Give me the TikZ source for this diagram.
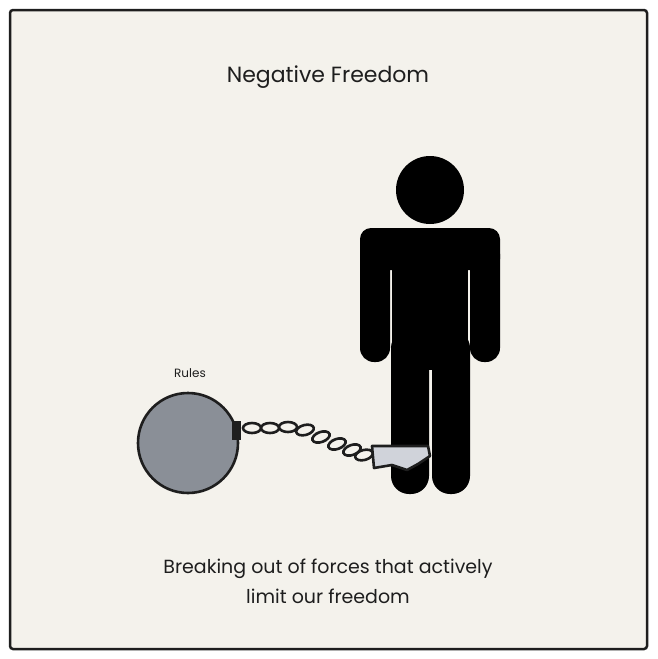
\documentclass[tikz,border=0pt]{standalone}
\usepackage{fontspec}
\setmainfont{Poppins}
\definecolor{bg}{HTML}{F4F2EC}
\definecolor{ink}{HTML}{1E1E1E}
\definecolor{ball}{HTML}{8A8F97}
\definecolor{cuff}{HTML}{D0D3DA}
\begin{document}
\begin{tikzpicture}[x=1pt,y=-1pt,
  txt/.style={text=ink,align=center},
  blk/.style={fill=black,draw=none},
  link/.style={draw=ink,line width=2.6pt}]
\useasboundingbox (0,0) rectangle (657,659);
\node[draw=ink,line width=2.5pt,fill=bg,rounded corners=3pt,minimum width=637pt,minimum height=639pt,inner sep=0pt] (frame) at (328.5,329.5) {};
\node[txt,font=\fontsize{22}{26}\selectfont] (title) at (328,77) {Negative Freedom};
% person
\fill[blk] (430,190) circle (34);
\fill[blk,rounded corners=11pt] (360,228) rectangle (500,270);
\fill[blk,rounded corners=14pt] (360,240) rectangle (390,362);
\fill[blk,rounded corners=14pt] (470,240) rectangle (500,362);
\fill[blk] (392,240) rectangle (468,370);
\fill[blk,rounded corners=18pt] (391,330) rectangle (429,494);
\fill[blk,rounded corners=18pt] (432,330) rectangle (470,494);
% ball
\node[draw=ink,line width=2.6pt,fill=ball,circle,minimum size=100pt,inner sep=0pt] (ball) at (188,443) {};
\fill[ink] (232,421) rectangle (241,440);
\node[txt,font=\fontsize{12}{14}\selectfont] (rules) at (190,373) {Rules};
% chain
\foreach \x/\y/\a in {252/428/0,270/428/0,288/427/0,305/430/15,321/437/20,337/444/20,352/450/20,364/455/15}
  \draw[link,rotate around={\a:(\x,\y)}] (\x,\y) ellipse (9pt and 5pt);
% cuff
\draw[draw=ink,line width=2.6pt,fill=cuff,line join=round] (372,446) -- (428,446) -- (430,456) -- (418,464) -- (407,470) -- (392,465) -- (374,468) -- cycle;
\node[txt,font=\fontsize{19}{30}\selectfont] (cap) at (328,581) {Breaking out of forces that actively\\limit our freedom};
\end{tikzpicture}
\end{document}
